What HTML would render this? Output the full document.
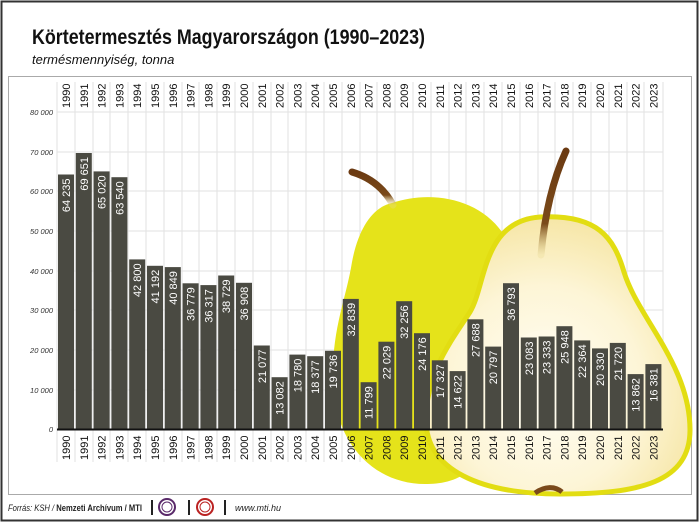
<!DOCTYPE html>
<html><head><meta charset="utf-8"><style>
html,body{margin:0;padding:0;background:#fff;}
body{width:700px;height:523px;overflow:hidden;}
svg text{font-family:"Liberation Sans",sans-serif;}
</style></head><body>
<svg width="700" height="523" viewBox="0 0 700 523" xmlns="http://www.w3.org/2000/svg">
<defs>
<radialGradient id="cream" cx="0.45" cy="0.62" r="0.62">
<stop offset="0" stop-color="#fffef6"/><stop offset="0.6" stop-color="#fdf5d6"/><stop offset="1" stop-color="#f6e6a6"/>
</radialGradient>
<linearGradient id="stem" x1="0" y1="0" x2="0" y2="1">
<stop offset="0" stop-color="#6b3a12"/><stop offset="0.7" stop-color="#7a4a1a"/><stop offset="1" stop-color="#e8d890" stop-opacity="0.3"/>
</linearGradient>
</defs>
<rect x="1.5" y="1.5" width="696" height="519" fill="#fff" stroke="#333" stroke-width="2"/>
<rect x="8.5" y="76.5" width="683" height="418" fill="#fff" stroke="#aaa" stroke-width="1"/>
<text x="32" y="44" font-size="21" font-weight="bold" fill="#111" textLength="393" lengthAdjust="spacingAndGlyphs">Körtetermesztés Magyarországon (1990–2023)</text>
<text x="32" y="64" font-size="13" font-style="italic" fill="#111">termésmennyiség, tonna</text>

<g stroke="#e2e2e2" stroke-width="1">
<line x1="57" y1="112" x2="663" y2="112"/><line x1="57" y1="152" x2="663" y2="152"/><line x1="57" y1="191" x2="663" y2="191"/><line x1="57" y1="231" x2="663" y2="231"/><line x1="57" y1="271" x2="663" y2="271"/><line x1="57" y1="310" x2="663" y2="310"/><line x1="57" y1="350" x2="663" y2="350"/><line x1="57" y1="390" x2="663" y2="390"/>
</g>
<g stroke="#e2e2e2" stroke-width="1">
<line x1="57" y1="82" x2="57" y2="462"/><line x1="75" y1="82" x2="75" y2="462"/><line x1="93" y1="82" x2="93" y2="462"/><line x1="110" y1="82" x2="110" y2="462"/><line x1="128" y1="82" x2="128" y2="462"/><line x1="146" y1="82" x2="146" y2="462"/><line x1="164" y1="82" x2="164" y2="462"/><line x1="182" y1="82" x2="182" y2="462"/><line x1="199" y1="82" x2="199" y2="462"/><line x1="217" y1="82" x2="217" y2="462"/><line x1="235" y1="82" x2="235" y2="462"/><line x1="253" y1="82" x2="253" y2="462"/><line x1="271" y1="82" x2="271" y2="462"/><line x1="288" y1="82" x2="288" y2="462"/><line x1="306" y1="82" x2="306" y2="462"/><line x1="324" y1="82" x2="324" y2="462"/><line x1="342" y1="82" x2="342" y2="462"/><line x1="360" y1="82" x2="360" y2="462"/><line x1="377" y1="82" x2="377" y2="462"/><line x1="395" y1="82" x2="395" y2="462"/><line x1="413" y1="82" x2="413" y2="462"/><line x1="431" y1="82" x2="431" y2="462"/><line x1="449" y1="82" x2="449" y2="462"/><line x1="466" y1="82" x2="466" y2="462"/><line x1="484" y1="82" x2="484" y2="462"/><line x1="502" y1="82" x2="502" y2="462"/><line x1="520" y1="82" x2="520" y2="462"/><line x1="538" y1="82" x2="538" y2="462"/><line x1="555" y1="82" x2="555" y2="462"/><line x1="573" y1="82" x2="573" y2="462"/><line x1="591" y1="82" x2="591" y2="462"/><line x1="609" y1="82" x2="609" y2="462"/><line x1="627" y1="82" x2="627" y2="462"/><line x1="644" y1="82" x2="644" y2="462"/><line x1="663" y1="82" x2="663" y2="462"/>
</g>

<path d="M392,203 C430,190 478,198 502,232 C515,260 505,300 485,340 C470,380 500,430 470,470 C455,482 440,484 425,484 C375,484 336,445 333,385 C331,330 346,300 352,262 C358,230 372,207 392,203 Z" fill="#e5e31a"/>
<path d="M352,172 C372,178 385,190 393,205" stroke="url(#stem)" stroke-width="7" fill="none" stroke-linecap="round"/>
<path d="M540,217 C598,214 614,238 624,272 C638,318 690,365 690,430 C690,482 640,494 560,494 C480,494 426,470 426,420 C426,372 452,340 470,312 C486,286 482,221 540,217 Z" fill="url(#cream)" stroke="#e2dd12" stroke-width="5"/>
<ellipse cx="545" cy="370" rx="42" ry="40" fill="#fffbea" opacity="0.7"/>
<path d="M566,151 C555,175 545,210 541,255" stroke="url(#stem)" stroke-width="7" fill="none" stroke-linecap="round"/>
<path d="M535,493 C545,486 555,486 562,492" stroke="#7a4a1a" stroke-width="5" fill="none"/>

<g font-size="7.5" font-style="italic" fill="#333" text-anchor="end">
<text x="53" y="115">80 000</text><text x="53" y="155">70 000</text><text x="53" y="194">60 000</text><text x="53" y="234">50 000</text><text x="53" y="274">40 000</text><text x="53" y="313">30 000</text><text x="53" y="353">20 000</text><text x="53" y="393">10 000</text><text x="53" y="432">0</text>
</g>

<g fill="#4a4a42">
<rect x="58" y="174.5" width="16" height="254.5"/><rect x="75.8" y="153" width="16" height="276"/><rect x="93.6" y="171.4" width="16" height="257.6"/><rect x="111.4" y="177.2" width="16" height="251.8"/><rect x="129.2" y="259.4" width="16" height="169.6"/><rect x="147" y="265.8" width="16" height="163.2"/><rect x="164.8" y="267.1" width="16" height="161.9"/><rect x="182.6" y="283.3" width="16" height="145.7"/><rect x="200.4" y="285.1" width="16" height="143.9"/><rect x="218.2" y="275.5" width="16" height="153.5"/><rect x="236" y="282.8" width="16" height="146.2"/><rect x="253.8" y="345.5" width="16" height="83.5"/><rect x="271.6" y="377.2" width="16" height="51.8"/><rect x="289.4" y="354.6" width="16" height="74.4"/><rect x="307.2" y="356.2" width="16" height="72.8"/><rect x="325" y="350.8" width="16" height="78.2"/><rect x="342.8" y="298.9" width="16" height="130.1"/><rect x="360.6" y="382.2" width="16" height="46.8"/><rect x="378.4" y="341.7" width="16" height="87.3"/><rect x="396.2" y="301.2" width="16" height="127.8"/><rect x="414" y="333.2" width="16" height="95.8"/><rect x="431.8" y="360.3" width="16" height="68.7"/><rect x="449.6" y="371.1" width="16" height="57.9"/><rect x="467.4" y="319.3" width="16" height="109.7"/><rect x="485.2" y="346.6" width="16" height="82.4"/><rect x="503" y="283.2" width="16" height="145.8"/><rect x="520.8" y="337.5" width="16" height="91.5"/><rect x="538.6" y="336.5" width="16" height="92.5"/><rect x="556.4" y="326.2" width="16" height="102.8"/><rect x="574.2" y="340.4" width="16" height="88.6"/><rect x="592" y="348.4" width="16" height="80.6"/><rect x="609.8" y="342.9" width="16" height="86.1"/><rect x="627.6" y="374.1" width="16" height="54.9"/><rect x="645.4" y="364.1" width="16" height="64.9"/>
</g>
<line x1="57" y1="429.5" x2="663" y2="429.5" stroke="#111" stroke-width="2"/>

<g font-size="11" fill="#fff" text-anchor="end">
<text transform="translate(70,178.5) rotate(-90)">64 235</text>
<text transform="translate(87.8,157) rotate(-90)">69 651</text>
<text transform="translate(105.6,175.4) rotate(-90)">65 020</text>
<text transform="translate(123.4,181.2) rotate(-90)">63 540</text>
<text transform="translate(141.2,263.4) rotate(-90)">42 800</text>
<text transform="translate(159,269.8) rotate(-90)">41 192</text>
<text transform="translate(176.8,271.1) rotate(-90)">40 849</text>
<text transform="translate(194.6,287.3) rotate(-90)">36 779</text>
<text transform="translate(212.4,289.1) rotate(-90)">36 317</text>
<text transform="translate(230.2,279.5) rotate(-90)">38 729</text>
<text transform="translate(248,286.8) rotate(-90)">36 908</text>
<text transform="translate(265.8,349.5) rotate(-90)">21 077</text>
<text transform="translate(283.6,381.2) rotate(-90)">13 082</text>
<text transform="translate(301.4,358.6) rotate(-90)">18 780</text>
<text transform="translate(319.2,360.2) rotate(-90)">18 377</text>
<text transform="translate(337,354.8) rotate(-90)">19 736</text>
<text transform="translate(354.8,302.9) rotate(-90)">32 839</text>
<text transform="translate(372.6,386.2) rotate(-90)">11 799</text>
<text transform="translate(390.4,345.7) rotate(-90)">22 029</text>
<text transform="translate(408.2,305.2) rotate(-90)">32 256</text>
<text transform="translate(426,337.2) rotate(-90)">24 176</text>
<text transform="translate(443.8,364.3) rotate(-90)">17 327</text>
<text transform="translate(461.6,375.1) rotate(-90)">14 622</text>
<text transform="translate(479.4,323.3) rotate(-90)">27 688</text>
<text transform="translate(497.2,350.6) rotate(-90)">20 797</text>
<text transform="translate(515,287.2) rotate(-90)">36 793</text>
<text transform="translate(532.8,341.5) rotate(-90)">23 083</text>
<text transform="translate(550.6,340.5) rotate(-90)">23 333</text>
<text transform="translate(568.4,330.2) rotate(-90)">25 948</text>
<text transform="translate(586.2,344.4) rotate(-90)">22 364</text>
<text transform="translate(604,352.4) rotate(-90)">20 330</text>
<text transform="translate(621.8,346.9) rotate(-90)">21 720</text>
<text transform="translate(639.6,378.1) rotate(-90)">13 862</text>
<text transform="translate(657.4,368.1) rotate(-90)">16 381</text>
</g>

<g font-size="11" fill="#111">
<text transform="translate(70,108) rotate(-90)">1990</text><text transform="translate(87.8,108) rotate(-90)">1991</text><text transform="translate(105.6,108) rotate(-90)">1992</text><text transform="translate(123.4,108) rotate(-90)">1993</text><text transform="translate(141.2,108) rotate(-90)">1994</text><text transform="translate(159,108) rotate(-90)">1995</text><text transform="translate(176.8,108) rotate(-90)">1996</text><text transform="translate(194.6,108) rotate(-90)">1997</text><text transform="translate(212.4,108) rotate(-90)">1998</text><text transform="translate(230.2,108) rotate(-90)">1999</text><text transform="translate(248,108) rotate(-90)">2000</text><text transform="translate(265.8,108) rotate(-90)">2001</text><text transform="translate(283.6,108) rotate(-90)">2002</text><text transform="translate(301.4,108) rotate(-90)">2003</text><text transform="translate(319.2,108) rotate(-90)">2004</text><text transform="translate(337,108) rotate(-90)">2005</text><text transform="translate(354.8,108) rotate(-90)">2006</text><text transform="translate(372.6,108) rotate(-90)">2007</text><text transform="translate(390.4,108) rotate(-90)">2008</text><text transform="translate(408.2,108) rotate(-90)">2009</text><text transform="translate(426,108) rotate(-90)">2010</text><text transform="translate(443.8,108) rotate(-90)">2011</text><text transform="translate(461.6,108) rotate(-90)">2012</text><text transform="translate(479.4,108) rotate(-90)">2013</text><text transform="translate(497.2,108) rotate(-90)">2014</text><text transform="translate(515,108) rotate(-90)">2015</text><text transform="translate(532.8,108) rotate(-90)">2016</text><text transform="translate(550.6,108) rotate(-90)">2017</text><text transform="translate(568.4,108) rotate(-90)">2018</text><text transform="translate(586.2,108) rotate(-90)">2019</text><text transform="translate(604,108) rotate(-90)">2020</text><text transform="translate(621.8,108) rotate(-90)">2021</text><text transform="translate(639.6,108) rotate(-90)">2022</text><text transform="translate(657.4,108) rotate(-90)">2023</text>
</g>
<g font-size="11" fill="#111">
<text transform="translate(70,460) rotate(-90)">1990</text><text transform="translate(87.8,460) rotate(-90)">1991</text><text transform="translate(105.6,460) rotate(-90)">1992</text><text transform="translate(123.4,460) rotate(-90)">1993</text><text transform="translate(141.2,460) rotate(-90)">1994</text><text transform="translate(159,460) rotate(-90)">1995</text><text transform="translate(176.8,460) rotate(-90)">1996</text><text transform="translate(194.6,460) rotate(-90)">1997</text><text transform="translate(212.4,460) rotate(-90)">1998</text><text transform="translate(230.2,460) rotate(-90)">1999</text><text transform="translate(248,460) rotate(-90)">2000</text><text transform="translate(265.8,460) rotate(-90)">2001</text><text transform="translate(283.6,460) rotate(-90)">2002</text><text transform="translate(301.4,460) rotate(-90)">2003</text><text transform="translate(319.2,460) rotate(-90)">2004</text><text transform="translate(337,460) rotate(-90)">2005</text><text transform="translate(354.8,460) rotate(-90)">2006</text><text transform="translate(372.6,460) rotate(-90)">2007</text><text transform="translate(390.4,460) rotate(-90)">2008</text><text transform="translate(408.2,460) rotate(-90)">2009</text><text transform="translate(426,460) rotate(-90)">2010</text><text transform="translate(443.8,460) rotate(-90)">2011</text><text transform="translate(461.6,460) rotate(-90)">2012</text><text transform="translate(479.4,460) rotate(-90)">2013</text><text transform="translate(497.2,460) rotate(-90)">2014</text><text transform="translate(515,460) rotate(-90)">2015</text><text transform="translate(532.8,460) rotate(-90)">2016</text><text transform="translate(550.6,460) rotate(-90)">2017</text><text transform="translate(568.4,460) rotate(-90)">2018</text><text transform="translate(586.2,460) rotate(-90)">2019</text><text transform="translate(604,460) rotate(-90)">2020</text><text transform="translate(621.8,460) rotate(-90)">2021</text><text transform="translate(639.6,460) rotate(-90)">2022</text><text transform="translate(657.4,460) rotate(-90)">2023</text>
</g>

<text x="8" y="511" font-size="9" fill="#222" textLength="134" lengthAdjust="spacingAndGlyphs"><tspan font-style="italic">Forrás: KSH / </tspan><tspan font-weight="bold">Nemzeti Archívum / MTI</tspan></text>
<rect x="151" y="500" width="2" height="15" fill="#222"/>
<circle cx="167" cy="507" r="8" fill="#fff" stroke="#5a2a6a" stroke-width="2"/>
<circle cx="167" cy="507" r="5" fill="#fff" stroke="#5a2a6a" stroke-width="1"/>
<rect x="188" y="500" width="2" height="15" fill="#222"/>
<circle cx="205" cy="507" r="8" fill="#fff" stroke="#b22" stroke-width="2"/>
<circle cx="205" cy="507" r="5" fill="#fff" stroke="#b22" stroke-width="1"/>
<rect x="224" y="500" width="2" height="15" fill="#222"/>
<text x="235" y="511" font-size="9" font-style="italic" fill="#222">www.mti.hu</text>
</svg>
</body></html>
